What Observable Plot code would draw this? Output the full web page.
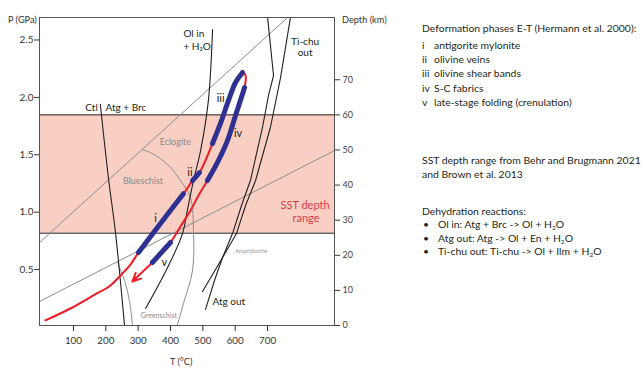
<!DOCTYPE html>
<html><head><meta charset="utf-8">
<script src="https://cdn.jsdelivr.net/npm/d3@7"></script>
<script src="https://cdn.jsdelivr.net/npm/@observablehq/plot@0.6"></script>
<style>
body{margin:0;background:#fff;font-family:Lato,"Open Sans",sans-serif;}
#wrap{position:relative;width:641px;height:368px;overflow:hidden;}
.t{position:absolute;font-size:10.4px;color:#231f20;white-space:nowrap;line-height:12px;}
.s{font-size:9.2px;color:#333;}
sub{font-size:6.5px;vertical-align:-2px;line-height:0;}
</style></head><body><div id="wrap"></div>
<script>
// ---- data (T in °C, P in GPa) ----
const xDomain = [-5, 907];
const yDomain = [0.013, 2.696];
const pTicks = [0.5, 1.0, 1.5, 2.0, 2.5];
const tTicks = [100, 200, 300, 400, 500, 600, 700];
const depthTicks = [0, 10, 20, 30, 40, 50, 60, 70];
const depthP0 = 0.013, gpaPerKm = 0.03058;       // depth axis conversion
const sstDepth = [26.3, 60];                       // SST depth range (km)

const ctlT = [183, 208, 230, 258], ctlP = [1.94, 1.30, 0.82, 0.01];
const grayAT = [-5, 762], grayAP = [0.736, 2.696];
const grayBT = [-5, 907], grayBP = [0.222, 1.537];
const ecloT = [313, 338, 369, 400, 431, 462, 471, 468, 440, 421];
const ecloP = [1.545, 1.52, 1.465, 1.39, 1.275, 1.126, 0.84, 0.49, 0.205, 0.013];
const greenT = [236, 258, 273, 283], greenP = [0.56, 0.405, 0.23, 0.0];
const olT = [530, 517, 493, 471, 452, 437, 391, 323];
const olP = [2.59, 1.97, 1.536, 1.275, 1.014, 0.813, 0.518, 0.161];
const atgT = [700, 718.5, 703, 684.5, 647, 619.5, 591.7, 560.8, 536, 508];
const atgP = [2.70, 2.19, 2.017, 1.74, 1.276, 1.058, 0.814, 0.605, 0.405, 0.152];
const tiT = [771, 740, 709, 663, 632, 604, 561, 499];
const tiP = [2.70, 2.17, 1.74, 1.276, 1.058, 0.814, 0.605, 0.309];

const pathT = [13.3, 90.6, 161.8, 214.4, 245.3, 276.2, 301, 369, 440, 468, 489.6, 529.8, 554.5, 576, 601, 622.6, 632, 629, 601, 576, 548, 514, 486.5, 462, 431, 400, 344, 282];
const pathP = [0.057, 0.161, 0.275, 0.362, 0.449, 0.544, 0.649, 0.902, 1.161, 1.275, 1.345, 1.598, 1.773, 1.947, 2.13, 2.217, 2.19, 2.086, 1.842, 1.624, 1.45, 1.276, 1.145, 1.015, 0.876, 0.736, 0.562, 0.396];
const phaseNames = ["i", "ii", "iii", "iv", "v"];
const phaseStart = [6, 9, 11, 17, 25];
const phaseEnd = [8, 10, 15, 21, 26];

// ---- helpers ----
const pts = (xs, ys) => xs.map((x, i) => ({x, y: ys[i]}));
const dP = d => depthP0 + d * gpaPerKm;
const path = pts(pathT, pathP);
const last = path.length - 1;
const redPts = path.slice(0, last);
const bluePts = phaseNames.flatMap((n, k) => path.slice(phaseStart[k], phaseEnd[k] + 1).map(p => ({...p, z: n})));

const labelsMid = [
  {x: 156, y: 1.912, t: "Ctl", c: "#231f20", s: 10},
  {x: 816, y: 2.487, t: "Ti-chu", c: "#231f20", s: 10},
  {x: 816, y: 2.391, t: "out", c: "#231f20", s: 10},
  {x: 555, y: 1.99, t: "iii", c: "#231f20", s: 11},
  {x: 609, y: 1.686, t: "iv", c: "#231f20", s: 11},
  {x: 460, y: 1.346, t: "ii", c: "#231f20", s: 11},
  {x: 353.5, y: 0.945, t: "i", c: "#231f20", s: 11},
  {x: 381, y: 0.562, t: "v", c: "#231f20", s: 11},
  {x: 415, y: 1.607, t: "Eclogite", c: "#8a8a8a", s: 9},
  {x: 315, y: 1.267, t: "Blueschist", c: "#8a8a8a", s: 9},
  {x: 364, y: 0.10, t: "Greenschist", c: "#8a8a8a", s: 7},
  {x: 649, y: 0.658, t: "Amphibolite", c: "#9a9a9a", s: 6},
  {x: 816, y: 1.058, t: "SST depth", c: "#d93a4c", s: 11},
  {x: 819, y: 0.945, t: "range", c: "#d93a4c", s: 11}
];
const labelsStart = [
  {x: 199, y: 1.912, t: "Atg + Brc", c: "#231f20", s: 10},
  {x: 440, y: 2.557, t: "Ol in", c: "#231f20", s: 10},
  {x: 440, y: 2.443, t: "+ H₂O", c: "#231f20", s: 10},
  {x: 530, y: 0.222, t: "Atg out", c: "#231f20", s: 10}
];

const band = [{y1: dP(sstDepth[0]), y2: dP(sstDepth[1])}];

const plot = Plot.plot({
  width: 641, height: 368,
  marginLeft: 39, marginRight: 307, marginTop: 17, marginBottom: 43,
  x: {domain: xDomain}, y: {domain: yDomain},
  style: {fontFamily: "Lato, 'Open Sans', sans-serif", fontSize: "9.8px", color: "#333", background: "transparent"},
  marks: [
    Plot.rect(band, {x1: () => xDomain[0], x2: () => xDomain[1], y1: "y1", y2: "y2", fill: "#f9cfc4"}),
    Plot.ruleY([band[0].y1, band[0].y2], {stroke: "#231f20", strokeWidth: 1}),
    Plot.line(pts(grayAT, grayAP), {x: "x", y: "y", stroke: "#8c8c8c", strokeWidth: 1, clip: true}),
    Plot.line(pts(grayBT, grayBP), {x: "x", y: "y", stroke: "#8c8c8c", strokeWidth: 1, clip: true}),
    Plot.line(pts(ecloT, ecloP), {x: "x", y: "y", stroke: "#8c8c8c", strokeWidth: 1, curve: "catmull-rom", clip: true}),
    Plot.line(pts(greenT, greenP), {x: "x", y: "y", stroke: "#8c8c8c", strokeWidth: 1, curve: "catmull-rom", clip: true}),
    Plot.line(pts(ctlT, ctlP), {x: "x", y: "y", stroke: "#231f20", strokeWidth: 1.1, curve: "catmull-rom", clip: true}),
    Plot.line(pts(olT, olP), {x: "x", y: "y", stroke: "#231f20", strokeWidth: 1.1, curve: "catmull-rom", clip: true}),
    Plot.line(pts(atgT, atgP), {x: "x", y: "y", stroke: "#231f20", strokeWidth: 1.1, clip: true}),
    Plot.line(pts(tiT, tiP), {x: "x", y: "y", stroke: "#231f20", strokeWidth: 1.1, clip: true}),
    Plot.line(redPts, {x: "x", y: "y", stroke: "#ee1c25", strokeWidth: 2, curve: "catmull-rom"}),
    Plot.arrow([{x1: path[last - 1].x, y1: path[last - 1].y, x2: path[last].x, y2: path[last].y}],
      {x1: "x1", y1: "y1", x2: "x2", y2: "y2", stroke: "#ee1c25", strokeWidth: 2, headLength: 12, headAngle: 50}),
    Plot.line(bluePts, {x: "x", y: "y", z: "z", stroke: "#2e3192", strokeWidth: 5, curve: "catmull-rom"}),
    Plot.text(labelsMid, {x: "x", y: "y", text: "t", fill: "c", fontSize: "s", textAnchor: "middle"}),
    Plot.text(labelsStart, {x: "x", y: "y", text: "t", fill: "c", fontSize: "s", textAnchor: "start"}),
    Plot.frame({stroke: "#555", strokeWidth: 1}),
    Plot.axisY({ticks: pTicks, tickFormat: d3.format(".1f"), tickSize: 5, tickPadding: 1, label: null, stroke: "#333", fill: "#333", fontSize: 10}),
    Plot.axisX({ticks: tTicks, tickSize: 6, tickPadding: 6, label: null, stroke: "#333", fill: "#333"}),
    Plot.axisY(depthTicks.map(dP), {anchor: "right", tickFormat: p => String(Math.round((p - depthP0) / gpaPerKm)), tickSize: 5, tickPadding: 3, label: null, stroke: "#333", fill: "#444", fontSize: 9})
  ]
});
const wrap = document.getElementById("wrap");
wrap.appendChild(plot);

// ---- texts outside the frame ----
const txt = [
  [8, 20, "P (GPa)", "s"], [342, 20, "Depth (km)", "s"], [170, 362, "T (°C)", "s"],
  [422, 28, "Deformation phases E-T (Hermann et al. 2000):"],
  [422, 45, "i"], [434, 45, "antigorite mylonite"],
  [422, 59, "ii"], [434, 59, "olivine veins"],
  [422, 73, "iii"], [434, 73, "olivine shear bands"],
  [422, 88, "iv"], [434, 88, "S-C fabrics"],
  [422, 102, "v"], [434, 102, "late-stage folding (crenulation)"],
  [422, 160, "SST depth range from Behr and Brugmann 2021"],
  [422, 174, "and Brown et al. 2013"],
  [422, 211, "Dehydration reactions:"],
  [423, 224, "•"], [438, 224, "Ol in: Atg + Brc -&gt; Ol + H<sub>2</sub>O"],
  [423, 238, "•"], [438, 238, "Atg out: Atg -&gt; Ol + En + H<sub>2</sub>O"],
  [423, 251, "•"], [438, 251, "Ti-chu out: Ti-chu -&gt; Ol + Ilm + H<sub>2</sub>O"]
];
for (const [x, y, h, c] of txt) {
  const d = document.createElement("div");
  d.className = "t" + (c ? " " + c : "");
  d.style.left = x + "px"; d.style.top = (y - 6) + "px";
  d.innerHTML = h;
  wrap.appendChild(d);
}
plot.style.position = "absolute"; plot.style.left = "0"; plot.style.top = "0";
</script>
</body></html>
